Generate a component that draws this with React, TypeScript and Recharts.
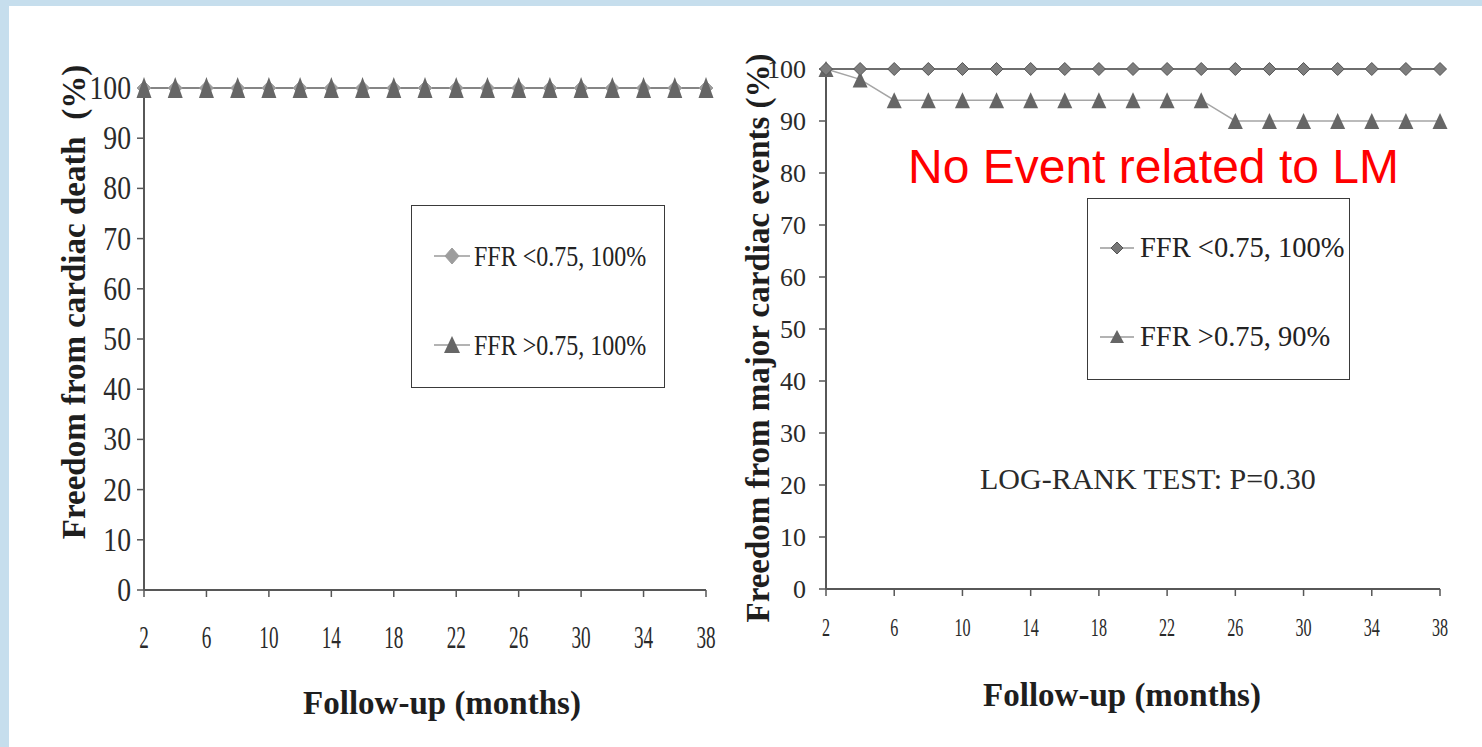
import { Legend, Line, LineChart, XAxis, YAxis } from "recharts";

const MONTHS = [2, 4, 6, 8, 10, 12, 14, 16, 18, 20, 22, 24, 26, 28, 30, 32, 34, 36, 38];
// left panel: freedom from cardiac death
const DEATH_LOW = [100, 100, 100, 100, 100, 100, 100, 100, 100, 100, 100, 100, 100, 100, 100, 100, 100, 100, 100];
const DEATH_HIGH = [100, 100, 100, 100, 100, 100, 100, 100, 100, 100, 100, 100, 100, 100, 100, 100, 100, 100, 100];
// right panel: freedom from major cardiac events
const MACE_LOW = [100, 100, 100, 100, 100, 100, 100, 100, 100, 100, 100, 100, 100, 100, 100, 100, 100, 100, 100];
const MACE_HIGH = [100, 98, 94, 94, 94, 94, 94, 94, 94, 94, 94, 94, 90, 90, 90, 90, 90, 90, 90];

const X_TICKS = [2, 6, 10, 14, 18, 22, 26, 30, 34, 38];
const Y_TICKS = [0, 10, 20, 30, 40, 50, 60, 70, 80, 90, 100];

const LEFT_LEGEND = ["FFR <0.75, 100%", "FFR >0.75, 100%"];
const RIGHT_LEGEND = ["FFR <0.75, 100%", "FFR >0.75, 90%"];

const leftData = MONTHS.map((m, i) => ({ m, low: DEATH_LOW[i], high: DEATH_HIGH[i] }));
const rightData = MONTHS.map((m, i) => ({ m, low: MACE_LOW[i], high: MACE_HIGH[i] }));

const SERIF = "'Liberation Serif', 'Times New Roman', serif";
const AXIS = "#575757";

function Tick(props: any) {
  const { x, y, payload, size, sx, anchor, dy } = props;
  return (
    <text
      transform={`translate(${x} ${y}) scale(${sx} 1)`}
      textAnchor={anchor}
      dy={dy}
      fontFamily={SERIF}
      fontSize={size}
      fill="#2a2a2a"
    >
      {payload.value}
    </text>
  );
}

const triangle = (hw: number, up: number, down: number, fill: string) => (p: any) => {
  const { cx, cy, index } = p;
  if (cx == null || cy == null) return <g key={`t${index}`} />;
  return (
    <path
      key={`t${index}`}
      d={`M${cx} ${cy - up}L${cx + hw} ${cy + down}L${cx - hw} ${cy + down}Z`}
      fill={fill}
    />
  );
};

const diamond = (r: number, fill: string, stroke: string) => (p: any) => {
  const { cx, cy, index } = p;
  if (cx == null || cy == null) return <g key={`d${index}`} />;
  return (
    <path
      key={`d${index}`}
      d={`M${cx} ${cy - r}L${cx + r} ${cy}L${cx} ${cy + r}L${cx - r} ${cy}Z`}
      fill={fill}
      stroke={stroke}
      strokeWidth={1}
    />
  );
};

function LegendBox(props: any) {
  const { w, h, labels, fontSize, sx, lineX1, lineX2, markX, textX, rows, small } = props;
  return (
    <div
      style={{
        width: w,
        height: h,
        border: "1.5px solid #3a3a3a",
        boxSizing: "border-box",
        background: "#fff",
      }}
    >
      <svg width={w - 3} height={h - 3}>
        {labels.map((lab: string, i: number) => {
          const cy = rows[i];
          return (
            <g key={lab}>
              <line x1={lineX1} x2={lineX2} y1={cy} y2={cy} stroke="#9a9a9a" strokeWidth={1.5} />
              {i === 0 ? (
                <path
                  d={`M${markX} ${cy - (small ? 6 : 8)}L${markX + (small ? 6 : 7)} ${cy}L${markX} ${cy + (small ? 6 : 8)}L${markX - (small ? 6 : 7)} ${cy}Z`}
                  fill={small ? "#777" : "#9d9d9d"}
                  stroke={small ? "#555" : "#9d9d9d"}
                />
              ) : (
                <path
                  d={`M${markX} ${cy - (small ? 7 : 9)}L${markX + (small ? 7 : 8)} ${cy + (small ? 6 : 8)}L${markX - (small ? 7 : 8)} ${cy + (small ? 6 : 8)}Z`}
                  fill="#666"
                />
              )}
              <text
                transform={`translate(${textX} ${cy + fontSize * 0.33}) scale(${sx} 1)`}
                fontFamily={SERIF}
                fontSize={fontSize}
                fill="#222"
              >
                {lab}
              </text>
            </g>
          );
        })}
      </svg>
    </div>
  );
}

export default function App() {
  return (
    <div
      style={{
        position: "absolute",
        left: 0,
        top: 0,
        width: 1482,
        height: 747,
        background: "#c6deed",
        overflow: "hidden",
      }}
    >
      <div style={{ position: "absolute", left: 9, top: 6, width: 1473, height: 741, background: "#fff" }} />

      {/* left panel */}
      <div style={{ position: "absolute", left: 0, top: 0 }}>
        <LineChart
          width={1482}
          height={747}
          data={leftData}
          margin={{ top: 88, right: 776, bottom: 117, left: 84 }}
        >
          <XAxis
            dataKey="m"
            type="number"
            domain={[2, 38]}
            ticks={X_TICKS}
            interval={0}
            height={40}
            tickSize={7}
            axisLine={{ stroke: AXIS, strokeWidth: 2 }}
            tickLine={{ stroke: AXIS, strokeWidth: 1.5 }}
            tick={(p: any) => <Tick {...p} size={32} sx={0.6} anchor="middle" dy={49} />}
          />
          <YAxis
            type="number"
            domain={[0, 100]}
            ticks={Y_TICKS}
            interval={0}
            width={60}
            tickSize={7}
            tickMargin={6}
            axisLine={{ stroke: AXIS, strokeWidth: 2 }}
            tickLine={{ stroke: AXIS, strokeWidth: 1.5 }}
            tick={(p: any) => <Tick {...p} size={33} sx={0.84} anchor="end" dy={11} />}
          />
          <Legend
            layout="vertical"
            verticalAlign="middle"
            align="center"
            wrapperStyle={{ left: 411, top: 205, width: 254, height: 183 }}
            content={() => (
              <LegendBox
                w={254}
                h={183}
                labels={LEFT_LEGEND}
                fontSize={30}
                sx={0.8}
                lineX1={22}
                lineX2={58}
                markX={40}
                textX={62}
                rows={[50, 139]}
              />
            )}
          />
          <Line
            dataKey="low"
            name={LEFT_LEGEND[0]}
            type="linear"
            stroke="#8a8a8a"
            strokeWidth={1.5}
            dot={diamond(7, "#9d9d9d", "#9d9d9d")}
            isAnimationActive={false}
          />
          <Line
            dataKey="high"
            name={LEFT_LEGEND[1]}
            type="linear"
            stroke="#7a7a7a"
            strokeWidth={1.5}
            dot={triangle(7.5, 11, 10, "#666")}
            isAnimationActive={false}
          />
        </LineChart>
      </div>

      {/* right panel */}
      <div style={{ position: "absolute", left: 0, top: 0 }}>
        <LineChart
          width={1482}
          height={747}
          data={rightData}
          margin={{ top: 69, right: 42, bottom: 118, left: 766 }}
        >
          <XAxis
            dataKey="m"
            type="number"
            domain={[2, 38]}
            ticks={X_TICKS}
            interval={0}
            height={40}
            tickSize={7}
            axisLine={{ stroke: AXIS, strokeWidth: 2 }}
            tickLine={{ stroke: AXIS, strokeWidth: 1.5 }}
            tick={(p: any) => <Tick {...p} size={26} sx={0.62} anchor="middle" dy={38} />}
          />
          <YAxis
            type="number"
            domain={[0, 100]}
            ticks={Y_TICKS}
            interval={0}
            width={60}
            tickSize={7}
            tickMargin={13}
            axisLine={{ stroke: AXIS, strokeWidth: 2 }}
            tickLine={{ stroke: AXIS, strokeWidth: 1.5 }}
            tick={(p: any) => <Tick {...p} size={26} sx={1} anchor="end" dy={9} />}
          />
          <Legend
            layout="vertical"
            verticalAlign="middle"
            align="center"
            wrapperStyle={{ left: 1087, top: 198, width: 263, height: 182 }}
            content={() => (
              <LegendBox
                w={263}
                h={182}
                labels={RIGHT_LEGEND}
                fontSize={28.5}
                sx={1}
                lineX1={12}
                lineX2={46}
                markX={29}
                textX={52}
                rows={[49, 138]}
                small
              />
            )}
          />
          <Line
            dataKey="high"
            name={RIGHT_LEGEND[1]}
            type="linear"
            stroke="#a5a5a5"
            strokeWidth={1.5}
            dot={triangle(7.5, 8, 8, "#666")}
            isAnimationActive={false}
          />
          <Line
            dataKey="low"
            name={RIGHT_LEGEND[0]}
            type="linear"
            stroke="#6e6e6e"
            strokeWidth={2}
            dot={diamond(6.5, "#7d7d7d", "#555")}
            isAnimationActive={false}
          />
        </LineChart>
      </div>

      {/* titles and notes */}
      <svg
        width={1482}
        height={747}
        style={{ position: "absolute", left: 0, top: 0, pointerEvents: "none" }}
      >
        <text
          transform="translate(74 302) rotate(-90)"
          textAnchor="middle"
          dominantBaseline="central"
          fontFamily={SERIF}
          fontWeight="bold"
          fontSize={33}
          fill="#1e1e1e"
          style={{ whiteSpace: "pre" }}
        >
          {"Freedom from cardiac death  (%)"}
        </text>
        <text
          transform="translate(758 338) rotate(-90)"
          textAnchor="middle"
          dominantBaseline="central"
          fontFamily={SERIF}
          fontWeight="bold"
          fontSize={33}
          fill="#1e1e1e"
        >
          Freedom from major cardiac events (%)
        </text>
        <text x={442} y={714} textAnchor="middle" fontFamily={SERIF} fontWeight="bold" fontSize={33} fill="#1e1e1e">
          Follow-up (months)
        </text>
        <text x={1122} y={706} textAnchor="middle" fontFamily={SERIF} fontWeight="bold" fontSize={33} fill="#1e1e1e">
          Follow-up (months)
        </text>
        <text x={908} y={183} fontFamily="'Liberation Sans', Arial, sans-serif" fontSize={48} fill="#ff0000">
          No Event related to LM
        </text>
        <text x={980} y={489} fontFamily={SERIF} fontSize={30} fill="#2a2a2a">
          LOG-RANK TEST: P=0.30
        </text>
      </svg>
    </div>
  );
}
